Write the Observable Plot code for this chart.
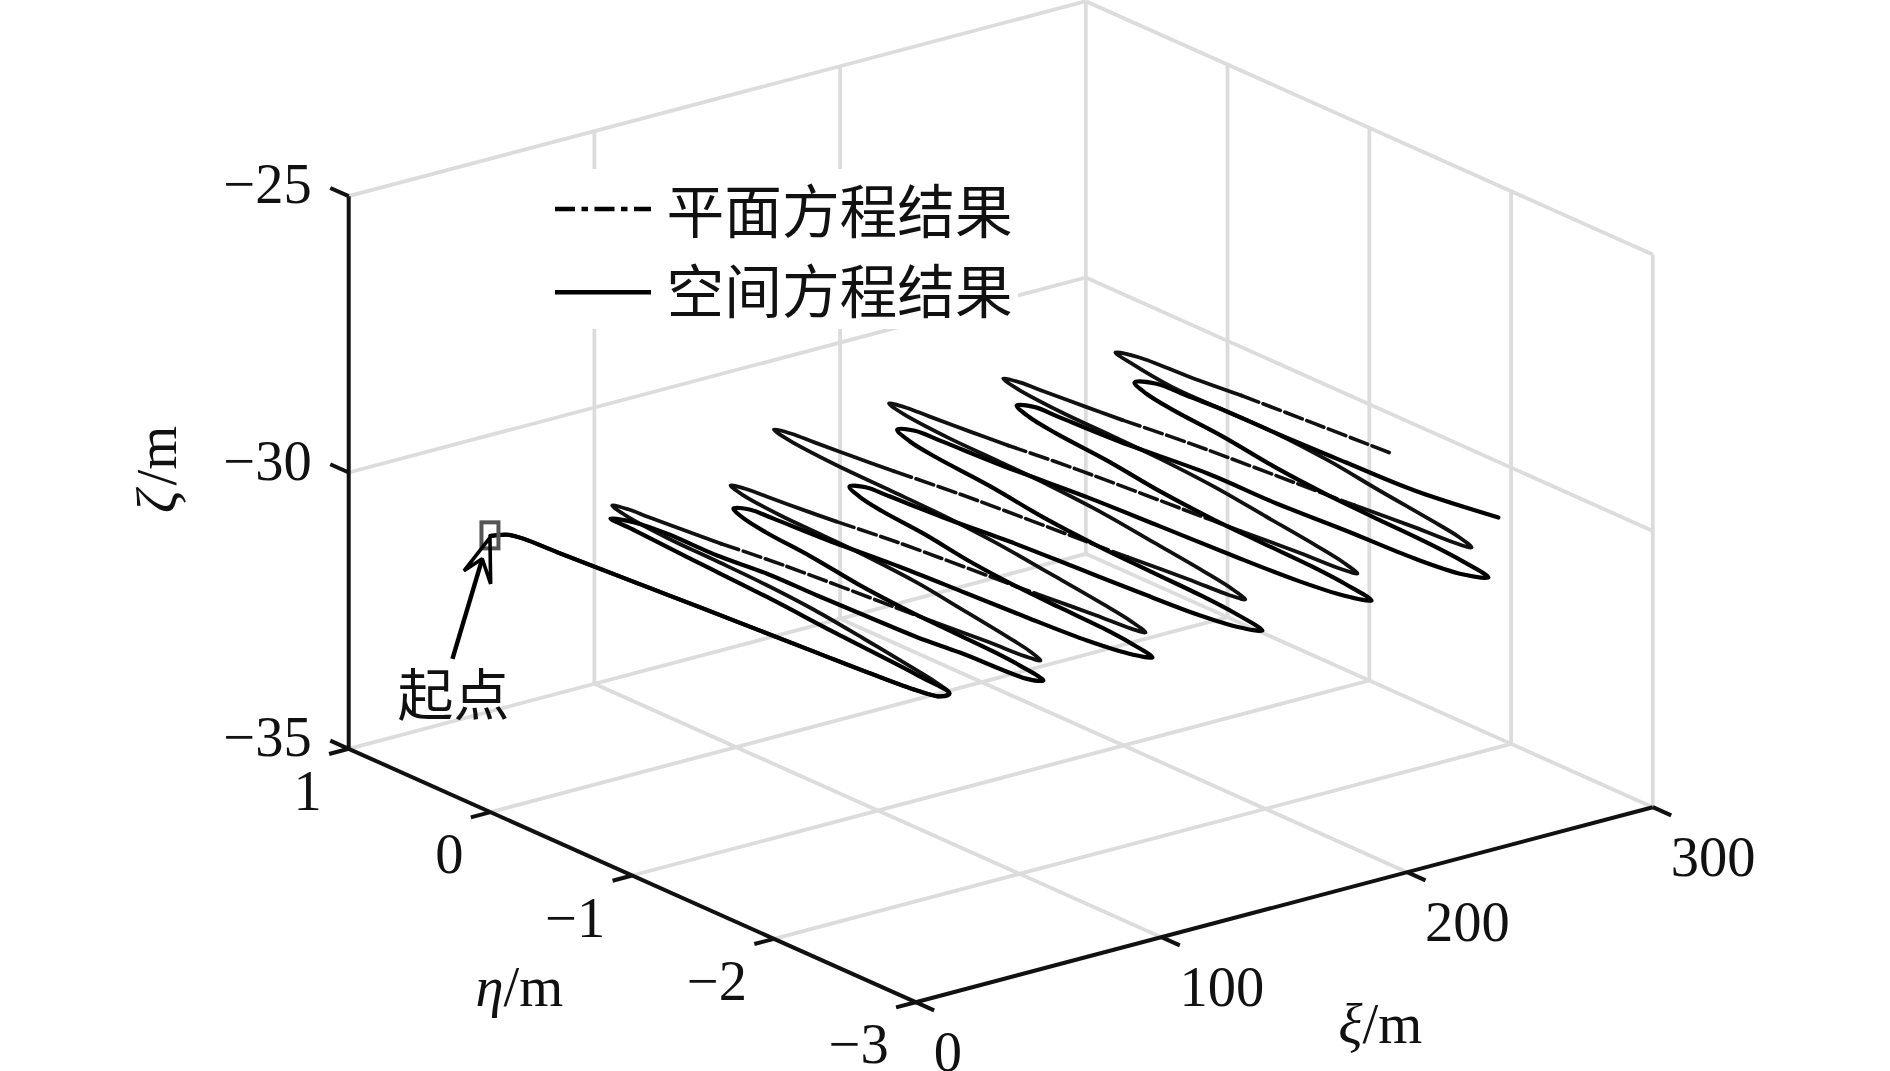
<!DOCTYPE html>
<html lang="zh">
<head>
<meta charset="utf-8">
<title>平面方程结果与空间方程结果</title>
<style>html,body{margin:0;padding:0;background:#fff}svg{display:block}</style>
<script src="https://cdn.jsdelivr.net/npm/d3@7"></script>
<script src="https://cdn.jsdelivr.net/npm/@observablehq/plot@0.6"></script>
</head>
<body>
<div id="chart"></div>
<script>
// ---------- values ----------
const xiTicks = [0, 100, 200, 300];
const etaTicks = [1, 0, -1, -2, -3];
const zetaTicks = [-35, -30, -25];
const legendLabels = ["平面方程结果", "空间方程结果"];
const trackZeta = -30; // depth of both tracks

// first leg, shared by both tracks
const sharedXi = [0, 2.6, 5.3, 6.8, 7.7, 9.2, 10.9, 12.7, 14.7, 16.6, 18.3, 20.6, 23.2, 27.2];
const sharedEta = [0, -0.014, -0.038, -0.116, -0.337, -0.617, -0.94, -1.262, -1.651, -2.017, -2.34, -2.653, -2.773, -2.767];

// plane-equation track, after the first leg
const planeXi = [
  30.0, 32.5, 36.6, 40.4, 42.5, 43.4, 44.0, 46.2, 48.5,
  50.4, 51.2, 52.9, 54.5, 58.1, 63.1, 64.1, 66.6, 67.8, 69.3,
  72.0, 74.5, 78.5, 82.3, 84.3, 85.2, 85.8, 87.9, 90.2,
  92.2, 93.1, 94.8, 96.6, 100.3, 105.6, 106.7, 109.3, 110.7, 112.2,
  114.9, 117.5, 121.5, 125.3, 127.4, 128.2, 128.9, 131.0, 133.3,
  135.4, 136.3, 138.2, 140.1, 144.0, 149.6, 150.8, 153.6, 155.0, 156.6,
  159.3, 161.9, 165.8, 169.6, 171.7, 172.6, 173.2, 175.3, 177.6,
  179.6, 180.5, 182.3, 184.1, 187.9, 193.4, 194.5, 197.2, 198.5, 200.1,
  202.8, 205.4, 209.3, 213.1, 215.2, 216.1, 216.7, 218.8, 221.1,
  223.2, 224.1, 226.0, 227.8, 231.7, 237.3, 238.4, 241.2, 242.6, 244.2,
  246.9, 249.4, 253.2, 257.3, 259.5, 259.4, 259.4, 262.5, 264.7,
  267.9, 269.7, 272.3, 274.9, 277.5
];
const planeEta = [
  -2.63, -2.41, -2.0, -1.585, -1.2, -0.843, -0.485, -0.155, -0.018,
  -0.098, -0.231, -0.47, -0.683, -1.056, -1.854, -2.014, -2.36, -2.599, -2.679,
  -2.552, -2.348, -1.965, -1.583, -1.226, -0.895, -0.563, -0.258, -0.13,
  -0.206, -0.334, -0.563, -0.767, -1.123, -1.887, -2.04, -2.371, -2.601, -2.677,
  -2.528, -2.289, -1.84, -1.392, -0.974, -0.585, -0.197, 0.162, 0.311,
  0.223, 0.077, -0.186, -0.419, -0.829, -1.705, -1.88, -2.26, -2.523, -2.611,
  -2.467, -2.237, -1.805, -1.373, -0.97, -0.596, -0.222, 0.123, 0.267,
  0.18, 0.034, -0.229, -0.462, -0.87, -1.744, -1.919, -2.298, -2.56, -2.648,
  -2.505, -2.276, -1.846, -1.417, -1.016, -0.644, -0.272, 0.072, 0.215,
  0.128, -0.017, -0.279, -0.511, -0.918, -1.789, -1.963, -2.341, -2.602, -2.689,
  -2.555, -2.316, -1.882, -1.45, -1.046, -0.682, -0.315, 0.028, 0.179,
  0.071, -0.263, -0.578, -1.05, -1.547
];
// index ranges of the whole plane track where the dash pattern stays visible
const planeDashSpans = [[26, 29], [45, 48], [64, 67], [83, 86], [102, 105], [120, 122]];

// space-equation track, after the first leg
const spaceXi = [
  29.5, 32.7, 35.7, 38.2, 40.0, 40.6,
  44.4, 46.4, 46.7, 49.0, 49.4, 50.2, 51.1, 53.3, 55.4, 58.6,
  61.1, 62.4, 63.2, 64.2, 66.3, 70.1, 72.4, 74.7, 77.8,
  81.3, 82.2, 83.7, 87.0, 88.8, 90.5, 92.7, 95.8, 99.7,
  102.3, 103.8, 104.6, 105.6, 107.8, 111.9, 114.3, 116.8, 120.0,
  123.7, 124.6, 126.3, 129.7, 131.6, 133.5, 135.8, 139.0, 143.2,
  146.0, 147.5, 148.4, 149.5, 151.8, 156.2, 158.8, 161.3, 164.8,
  168.6, 169.5, 171.1, 174.7, 176.6, 178.4, 180.8, 184.1, 188.3,
  191.0, 192.5, 193.3, 194.3, 196.6, 200.8, 203.3, 205.8, 209.1,
  212.8, 213.3, 214.8, 219.0, 219.5, 221.7, 223.3, 226.5, 231.3,
  234.0, 235.5, 236.4, 237.4, 239.7, 244.0, 246.5, 249.0, 252.4,
  257.2, 258.3, 259.4, 259.6, 260.7, 262.2, 268.2
];
const spaceEta = [
  -2.5, -1.856, -1.335, -0.702, -0.33, -0.143,
  -0.24, -0.443, -0.79, -1.102, -1.449, -1.788, -2.124, -2.393, -2.826, -2.885,
  -2.683, -2.457, -2.129, -1.802, -1.449, -1.046, -0.693, -0.492, -0.366,
  -0.418, -0.572, -0.933, -1.396, -1.809, -2.221, -2.607, -2.839, -2.942,
  -2.743, -2.519, -2.195, -1.872, -1.523, -1.125, -0.777, -0.578, -0.453,
  -0.503, -0.654, -1.005, -1.457, -1.859, -2.261, -2.638, -2.864, -2.964,
  -2.728, -2.462, -2.079, -1.695, -1.282, -0.81, -0.397, -0.161, -0.013,
  -0.072, -0.248, -0.66, -1.189, -1.659, -2.129, -2.57, -2.834, -2.952,
  -2.723, -2.465, -2.093, -1.72, -1.32, -0.861, -0.46, -0.231, -0.088,
  -0.152, -0.315, -0.726, -1.263, -1.741, -2.19, -2.649, -2.93, -3.031,
  -2.801, -2.544, -2.172, -1.8, -1.399, -0.941, -0.541, -0.312, -0.169,
  -0.233, -0.461, -0.682, -1.067, -1.513, -1.974, -2.462
];

// ---------- oblique view of the 3-D box ----------
const view = {ox: 348.2, oy: 748.3, xiX: 2.457, xiY: -0.65, etaX: -141.75, etaY: -63.35, zetaY: -55.26};
const px = ([xi, eta]) => view.ox + view.xiX * xi + view.etaX * (eta - 1);
const py = ([xi, eta, zeta]) => view.oy + view.xiY * xi + view.etaY * (eta - 1) + view.zetaY * (zeta + 35);

const seg = (a, b) => ({a, b});
const gridSegs = [
  ...[100, 200, 300].map(x => seg([x, 1, -35], [x, -3, -35])),
  ...[1, 0, -1, -2].map(e => seg([0, e, -35], [300, e, -35])),
  ...[100, 200, 300].map(x => seg([x, 1, -35], [x, 1, -25])),
  ...[-30, -25].map(z => seg([0, 1, z], [300, 1, z])),
  ...[0, -1, -2, -3].map(e => seg([300, e, -35], [300, e, -25])),
  ...[-30, -25].map(z => seg([300, 1, z], [300, -3, z]))
];
const axisSegs = [
  seg([0, 1, -35], [0, 1, -25]),
  seg([0, 1, -35], [0, -3, -35]),
  seg([0, -3, -35], [300, -3, -35])
];
const tickSegs = [
  ...zetaTicks.map(z => seg([0, 1, z], [0, 1.13, z])),
  ...etaTicks.map(e => seg([0, e, -35], [-8, e, -35])),
  ...xiTicks.map(x => seg([x, -3, -35], [x, -3.13, -35]))
];

const toPoints = (xs, es) => xs.map((x, i) => [x, es[i], trackZeta]);
const planePts = toPoints([...sharedXi, ...planeXi], [...sharedEta, ...planeEta]);
const spacePts = toPoints([...sharedXi, ...spaceXi], [...sharedEta, ...spaceEta]);

// plane track split into the stretches that show gaps and those that do not
const planeDashed = planeDashSpans.flatMap(([i, j], k) => planePts.slice(i, j + 1).map(p => ({p, k})));
const planeSolid = [];
{
  let from = 0;
  planeDashSpans.forEach(([i, j], k) => {
    planePts.slice(from, i + 1).forEach(p => planeSolid.push({p, k}));
    from = j;
  });
}

const start = planePts[0];
const sx = px(start), sy = py(start);

const serif = "'Liberation Serif','Times New Roman',serif";
const cjk = "'Noto Sans CJK SC','Noto Sans',sans-serif";
const ink = "#111";
const tickLabel = v => String(v).replace("-", "−");
const linkOpts = (stroke, strokeWidth) => ({
  x1: d => px(d.a), y1: d => py(d.a), x2: d => px(d.b), y2: d => py(d.b),
  stroke, strokeWidth, strokeLinecap: "butt"
});
const textOpts = {fontFamily: serif, fontSize: 56.5, fill: ink, lineAnchor: "bottom"};

const chart = Plot.plot({
  width: 1890, height: 1071,
  marginTop: 0, marginRight: 0, marginBottom: 0, marginLeft: 0,
  x: {domain: [0, 1890], range: [0, 1890], axis: null},
  y: {domain: [0, 1071], range: [0, 1071], axis: null},
  style: {background: "#fff", overflow: "visible"},
  marks: [
    Plot.link(gridSegs, linkOpts("#dcdcdc", 3.8)),
    // white panel behind the legend
    Plot.rect([0], {x1: 545, x2: 1018, y1: 169, y2: 329, fill: "#fff"}),
    Plot.link(axisSegs, linkOpts(ink, 4)),
    Plot.link(tickSegs, linkOpts(ink, 4)),

    Plot.text(zetaTicks, {...textOpts, x: () => px([0, 1]) - 37, y: z => py([0, 1, z]) + 7, text: tickLabel, textAnchor: "end"}),
    Plot.text(etaTicks, {...textOpts, x: e => px([0, e]) - 27, y: e => py([0, e, -35]) + 61, text: tickLabel, textAnchor: "end"}),
    Plot.text(xiTicks, {...textOpts, x: v => px([v, -3]) + 18, y: v => py([v, -3, -35]) + 68.5, text: tickLabel, textAnchor: "start"}),

    // axis titles
    Plot.text(["η"], {...textOpts, x: 503, y: 1005, text: d => d, fontStyle: "italic", textAnchor: "end"}),
    Plot.text(["/m"], {...textOpts, x: 503, y: 1005, text: d => d, textAnchor: "start"}),
    Plot.text(["ξ"], {...textOpts, x: 1362, y: 1042.7, text: d => d, fontStyle: "italic", textAnchor: "end"}),
    Plot.text(["/m"], {...textOpts, x: 1362, y: 1042.7, text: d => d, textAnchor: "start"}),
    Plot.text(["ζ"], {...textOpts, x: 175.5, y: 512.5, text: d => d, fontStyle: "italic", rotate: -90, textAnchor: "start"}),
    Plot.text(["/m"], {...textOpts, x: 175.5, y: 485, text: d => d, rotate: -90, textAnchor: "start"}),

    // tracks
    Plot.line(planeDashed, {x: d => px(d.p), y: d => py(d.p), z: "k", curve: "catmull-rom", stroke: ink, strokeWidth: 3.6, strokeDasharray: "18.5,4.8"}),
    Plot.line(planeSolid, {x: d => px(d.p), y: d => py(d.p), z: "k", curve: "catmull-rom", stroke: ink, strokeWidth: 3.8}),
    Plot.line(spacePts, {x: px, y: py, curve: "catmull-rom", stroke: "#000", strokeWidth: 4.2}),

    // start marker and arrow
    Plot.rect([start], {x1: () => sx - 8.5, x2: () => sx + 8.5, y1: () => sy - 13, y2: () => sy + 13, fill: "none", stroke: "#555", strokeWidth: 4}),
    Plot.link([0], {x1: () => sx - 38, y1: () => sy + 123, x2: () => sx - 8.5, y2: () => sy + 24, stroke: "#000", strokeWidth: 4.4}),
    Plot.line([[-0.5, 1.7], [-26.5, 35], [-8.2, 23], [0.2, 48], [-0.5, 1.7]], {x: d => sx + d[0], y: d => sy + d[1], stroke: "#000", strokeWidth: 3.6, strokeLinejoin: "miter"}),
    Plot.text(["起点"], {x: () => sx - 37, y: () => sy + 161, text: d => d, fontFamily: cjk, fontSize: 56, fill: ink}),

    // legend
    Plot.ruleY([208.5], {x1: 555, x2: 651, stroke: "#000", strokeWidth: 4.6, strokeDasharray: "20,6.5,6.5,6.5"}),
    Plot.ruleY([291.7], {x1: 555, x2: 651, stroke: "#000", strokeWidth: 4.6}),
    Plot.text(legendLabels, {x: 666, y: (d, i) => [214, 294][i], text: d => d, fontFamily: cjk, fontSize: 57.7, fill: ink, textAnchor: "start"})
  ]
});
document.getElementById("chart").appendChild(chart);
</script>
</body>
</html>
